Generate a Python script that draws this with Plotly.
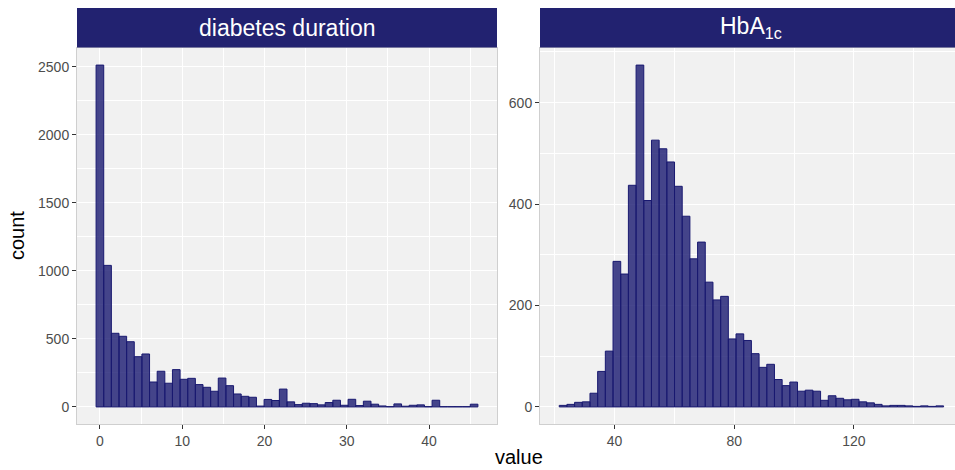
import plotly.graph_objects as go

W, H = 955, 470

# Diabetes duration (years): counts in 50 equal-width bins
dur_counts = [2512, 1040, 541, 519, 479, 369, 389, 183, 262, 174,
              274, 203, 210, 164, 144, 115, 212, 156, 95, 78,
              71, 6, 55, 47, 131, 37, 17, 27, 24, 15,
              32, 49, 12, 56, 10, 42, 20, 7, 2, 22,
              5, 12, 15, 2, 49, 2, 2, 2, 2, 20]
dur_first_center = 0.0
dur_bin_width = 0.928
dur_xticks = [0, 10, 20, 30, 40]
dur_yticks = [0, 500, 1000, 1500, 2000, 2500]

# HbA1c (mmol/mol): counts in 50 equal-width bins
hba_counts = [3, 5, 9, 10, 27, 70, 110, 287, 262, 437,
              674, 407, 526, 509, 483, 435, 376, 292, 325, 246,
              211, 218, 134, 144, 131, 105, 78, 84, 54, 42,
              49, 31, 33, 31, 13, 22, 17, 14, 15, 10,
              8, 5, 2, 3, 3, 2, 1, 2, 1, 2]
hba_first_center = 22.76
hba_bin_width = 2.571
hba_xticks = [40, 80, 120]
hba_yticks = [0, 200, 400, 600]

panel_titles = ["diabetes duration", "HbA<sub>1c</sub>"]

BAR_FILL = "rgba(25,25,112,0.8)"
BAR_LINE = "#191970"
STRIP = "#222270"
PANEL_BG = "#F1F1F1"
FONT = "Liberation Sans, Arial, sans-serif"


def px_x(p):
    return p / W


def px_y(p):
    return 1 - p / H


def centers(first, width, n):
    return [first + i * width for i in range(n)]


def padded(lo, hi, frac=0.05):
    span = hi - lo
    return [lo - span * frac, hi + span * frac]


dur_x = centers(dur_first_center, dur_bin_width, len(dur_counts))
hba_x = centers(hba_first_center, hba_bin_width, len(hba_counts))

fig = go.Figure()
fig.add_trace(go.Bar(x=dur_x, y=dur_counts, width=dur_bin_width,
                     marker=dict(color=BAR_FILL, line=dict(color=BAR_LINE, width=1)),
                     xaxis="x", yaxis="y", showlegend=False, hoverinfo="x+y"))
fig.add_trace(go.Bar(x=hba_x, y=hba_counts, width=hba_bin_width,
                     marker=dict(color=BAR_FILL, line=dict(color=BAR_LINE, width=1)),
                     xaxis="x2", yaxis="y2", showlegend=False, hoverinfo="x+y"))

# panel geometry in pixels
L_left, L_right = 77, 497
R_left, R_right = 540, 955
P_top, P_bot = 48, 424
S_top = 8

dur_xr = padded(dur_x[0] - dur_bin_width / 2, dur_x[-1] + dur_bin_width / 2)
hba_full = padded(hba_x[0] - hba_bin_width / 2, hba_x[-1] + hba_bin_width / 2)
# right panel runs off the page edge: same scale, truncated range
hba_xr = [hba_full[0], hba_full[0] + (R_right - R_left) / 2.99]
dur_yr = padded(0, max(dur_counts))
hba_yr = padded(0, max(hba_counts))

common = dict(
    showgrid=True, gridcolor="white", gridwidth=1.1,
    zeroline=False, showline=True, mirror=True, linecolor="#CFCFCF", linewidth=1,
    ticks="outside", ticklen=4, tickwidth=1.1, tickcolor="#333333",
    tickfont=dict(family=FONT, size=14, color="#4D4D4D"),
    fixedrange=True,
)

fig.update_layout(
    width=W, height=H,
    margin=dict(l=0, r=0, t=0, b=0),
    paper_bgcolor="white", plot_bgcolor=PANEL_BG,
    barmode="overlay",
    xaxis=dict(domain=[px_x(L_left), px_x(L_right)], range=dur_xr, anchor="y",
               tickvals=dur_xticks,
               minor=dict(dtick=5, tick0=0, showgrid=True, gridcolor="white", gridwidth=0.55),
               **common),
    yaxis=dict(domain=[px_y(P_bot), px_y(P_top)], range=dur_yr, anchor="x",
               tickvals=dur_yticks,
               minor=dict(dtick=250, tick0=0, showgrid=True, gridcolor="white", gridwidth=0.55),
               **common),
    xaxis2=dict(domain=[px_x(R_left), 1.0], range=hba_xr, anchor="y2",
                tickvals=hba_xticks,
                minor=dict(dtick=20, tick0=0, showgrid=True, gridcolor="white", gridwidth=0.55),
                **common),
    yaxis2=dict(domain=[px_y(P_bot), px_y(P_top)], range=hba_yr, anchor="x2",
                tickvals=hba_yticks,
                minor=dict(dtick=100, tick0=0, showgrid=True, gridcolor="white", gridwidth=0.55),
                **common),
)

# facet strips
shapes = []
annotations = []
strip_specs = [(L_left, L_right, (L_left + L_right) / 2, panel_titles[0]),
               (R_left, R_right, 751, panel_titles[1])]
for x0, x1, xc, label in strip_specs:
    shapes.append(dict(type="rect", xref="paper", yref="paper",
                       x0=px_x(x0), x1=px_x(x1), y0=px_y(P_top - 0.5), y1=px_y(S_top),
                       fillcolor=STRIP, line=dict(width=0), layer="above"))
    annotations.append(dict(xref="paper", yref="paper", x=px_x(xc), y=px_y((S_top + P_top) / 2),
                            text=label, showarrow=False, xanchor="center", yanchor="middle",
                            font=dict(family=FONT, size=23, color="white")))

# axis titles
annotations.append(dict(xref="paper", yref="paper", x=px_x(519), y=px_y(457),
                        text="value", showarrow=False, xanchor="center", yanchor="middle",
                        font=dict(family=FONT, size=20, color="black")))
annotations.append(dict(xref="paper", yref="paper", x=px_x(17), y=px_y((P_top + P_bot) / 2),
                        text="count", showarrow=False, textangle=-90,
                        xanchor="center", yanchor="middle",
                        font=dict(family=FONT, size=20, color="black")))

fig.update_layout(shapes=shapes, annotations=annotations)

fig.write_html("out.html")
